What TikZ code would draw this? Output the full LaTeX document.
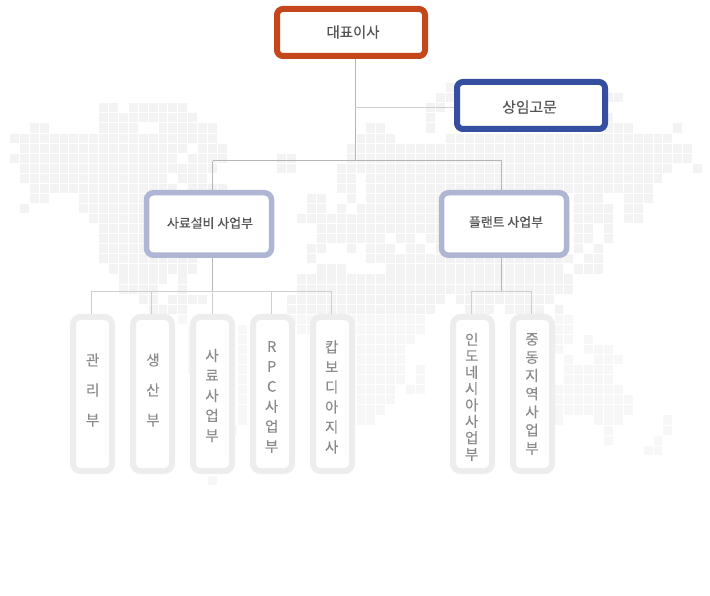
\documentclass[tikz,border=0pt]{standalone}
\usepackage{fontspec}
\setmainfont{Noto Sans CJK KR}
\newfontfamily\kmed[FakeBold=0.4]{Noto Sans CJK KR}
\newfontfamily\kleaf[FakeBold=0.1]{Noto Sans CJK KR}
\definecolor{cellc}{HTML}{F3F3F3}
\definecolor{cellb}{HTML}{F7F7F7}
\definecolor{ceoc}{HTML}{C4471C}
\definecolor{advc}{HTML}{354EA0}
\definecolor{divc}{HTML}{AEB6D3}
\definecolor{leafc}{HTML}{EDEDED}
\definecolor{linec}{HTML}{B6B6B6}
\definecolor{linel}{HTML}{CFCFCF}
\definecolor{headt}{HTML}{555555}
\definecolor{leaft}{HTML}{8A8A8A}
\tikzset{
  topbox/.style={draw, fill=white, line width=6pt, rounded corners=6pt, minimum width=148pt, minimum height=47pt, inner sep=0pt},
  divbox/.style={draw=divc, fill=white, line width=5.5pt, rounded corners=7pt, minimum width=125pt, minimum height=62.5pt, inner sep=0pt},
  leafbox/.style={draw=leafc, fill=white, line width=6pt, rounded corners=7.5pt, minimum width=39pt, minimum height=154pt, inner sep=0pt},
  headlabel/.style={text=headt, inner sep=0pt},
  leaflabel/.style={text=leaft, align=center, inner sep=0pt},
  conn/.style={draw=linec, line width=1pt},
  connl/.style={draw=linel, line width=1pt}
}
\newcommand{\leafnode}[6]{%
  \node[leafbox] (#1) at (#2,394) {};
  \node[leaflabel, font=\fontsize{14.5}{#5}\kleaf] (#1t) at (#3,#4) {#6};
}
\begin{document}
\begin{tikzpicture}[x=1pt,y=-1pt]
\useasboundingbox (0,0) rectangle (710,596);
\foreach \j/\spans in {
 -2/{44/44},
 -1/{43/44,60/61},
 0/{9/10,12/17,42/43},
 1/{9/18,42/42,60/60},
 2/{2/3,9/12,15/20,36/37,42/42,60/62,67/67},
 3/{0/20,35/38,44/66},
 4/{1/17,19/21,34/68},
 5/{0/16,18/21,27/28,34/68},
 6/{1/20,27/28,33/66,69/69},
 7/{1/15,17/19,33/34,36/65},
 8/{2/16,18/21,33/34,36/64},
 9/{2/3,7/13,30/31,34/34,36/43,57/59,62/64},
 10/{1/1,7/13,30/31,33/33,35/43,57/60,62/63},
 11/{8/13,29/43,57/60,62/63},
 12/{9/13,31/43,57/58,60/60},
 13/{9/13,31/37,39/40,42/43,57/58,60/60},
 14/{9/13,30/31,34/34,36/38,40/41,43/43,57/57,59/59},
 15/{9/18,30/30,36/56,58/59},
 16/{10/18,31/33,38/55,57/59},
 17/{11/15,17/17,29/56},
 18/{11/14,17/17,29/56},
 19/{13/14,16/19,28/43,45/54},
 20/{14/17,28/42,46/48,50/53,55/55},
 21/{17/17,28/41,55/56},
 22/{18/18,23/23,29/41,55/56},
 23/{18/18,23/23,35/40,55/56,58/58},
 24/{18/18,23/23,35/39,55/55,58/60},
 25/{18/18,23/23,35/39,56/56,59/61},
 26/{18/18,23/23,35/39,41/41,56/60},
 27/{23/23,35/39,41/41,56/60},
 28/{23/23,35/38,40/41,55/61},
 29/{23/23,35/38,55/62},
 30/{23/23,35/37,55/62},
 31/{23/23,35/36,55/55,59/61,66/66},
 32/{22/22,60/60,66/66},
 33/{60/60,65/65},
 34/{64/65},
 37/{20/20}%
}{
  \ifnum\j>20 \gdef\cc{cellb}\else\gdef\cc{cellc}\fi
  \foreach \a/\b in \spans {
    \foreach \k in {\a,...,\b} {
      \fill[fill=\cc] ({10+9.9*\k},{103.3+10.07*\j}) rectangle +(8.9,9.1);
    }
  }
}
% boxes
\node[topbox, draw=ceoc] (ceo) at (351,32.5) {};
\node[headlabel, font=\fontsize{14.4}{16}\kmed] (ceot) at (353,32) {대표이사};
\node[topbox, draw=advc] (adv) at (531,105.5) {};
\node[headlabel, font=\fontsize{14.8}{16}\kmed] (advt) at (529.5,107) {상임고문};
\node[divbox] (sales) at (209,224) {};
\node[headlabel, font=\fontsize{12.9}{15}\kmed] (salest) at (210,223) {사료설비 사업부};
\node[divbox] (plant) at (504,224) {};
\node[headlabel, font=\fontsize{12.9}{15}\kmed] (plantt) at (506,222) {플랜트 사업부};
\leafnode{l1}{92.5}{92.7}{390}{30}{관\\리\\부}
\leafnode{l2}{152.5}{153}{390}{30}{생\\산\\부}
\leafnode{l3}{212.5}{212}{395.5}{20}{사\\료\\사\\업\\부}
\leafnode{l4}{272.5}{271.7}{397}{20}{R\\P\\C\\사\\업\\부}
\leafnode{l5}{332.5}{331.7}{397}{20}{캅\\보\\디\\아\\지\\사}
\leafnode{l6}{472.5}{471.7}{396.8}{16.4}{인\\도\\네\\시\\아\\사\\업\\부}
\leafnode{l7}{532.5}{532}{394}{18.2}{중\\동\\지\\역\\사\\업\\부}
% connectors
\coordinate (trunk) at (355,161);
\coordinate (salesj) at (212.5,161);
\coordinate (plantj) at (501.5,161);
\coordinate (advj) at (355,108);
\coordinate (lowl) at (212.5,291.5);
\coordinate (lowr) at (501.5,291.5);
\draw[conn] (ceo.south -| trunk) -- (trunk);
\draw[connl] (advj) -- (adv.west |- advj);
\draw[conn] (salesj) -- (plantj);
\draw[conn] (salesj) -- (sales.north -| salesj);
\draw[conn] (plantj) -- (plant.north -| plantj);
\draw[conn] (sales.south -| lowl) -- (lowl);
\draw[conn] (plant.south -| lowr) -- (lowr);
\coordinate (d1) at (91.5,291.5);
\coordinate (d2) at (151,291.5);
\coordinate (d3) at (212.5,291.5);
\coordinate (d4) at (271.5,291.5);
\coordinate (d5) at (331.5,291.5);
\coordinate (d6) at (471.5,291.5);
\coordinate (d7) at (531.5,291.5);
\draw[connl] (d1) -- (d5);
\draw[connl] (d6) -- (d7);
\foreach \d/\n in {d1/l1,d2/l2,d3/l3,d4/l4,d5/l5,d6/l6,d7/l7} {
  \draw[connl] (\d) -- (\n.north -| \d);
}
\end{tikzpicture}
\end{document}
